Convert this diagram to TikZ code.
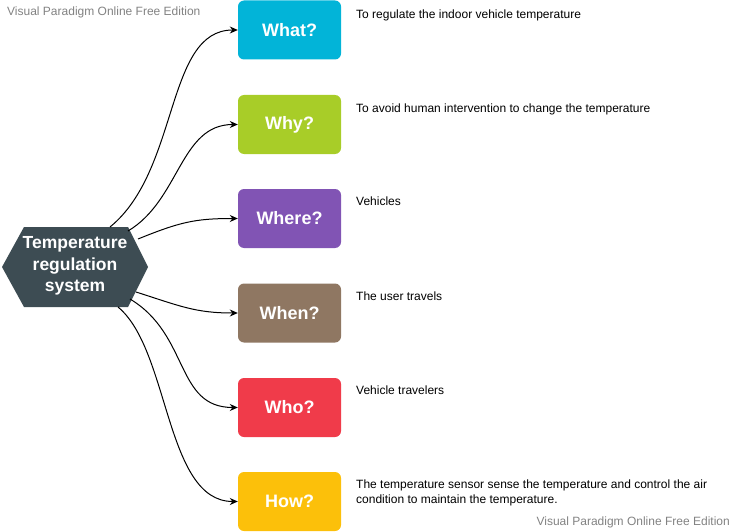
\documentclass[tikz,border=0pt]{standalone}
\usepackage{fontspec}
\setmainfont{Liberation Sans}
\usetikzlibrary{arrows.meta}
\definecolor{hubfill}{RGB}{61,76,83}
\definecolor{cWhat}{RGB}{2,180,216}
\definecolor{cWhy}{RGB}{168,205,40}
\definecolor{cWhere}{RGB}{129,84,180}
\definecolor{cWhen}{RGB}{143,119,98}
\definecolor{cWho}{RGB}{240,59,74}
\definecolor{cHow}{RGB}{252,192,10}
\definecolor{wmark}{RGB}{130,130,130}
\tikzset{
  qbox/.style={rounded corners=6pt, minimum width=103pt, minimum height=59pt,
    inner sep=0pt, text=white, font=\fontsize{18}{21}\selectfont\bfseries},
  desc/.style={anchor=north west, inner sep=0pt, align=left,
    font=\fontsize{12}{14}\selectfont},
  wm/.style={inner sep=0pt, text=wmark, font=\fontsize{12}{14}\selectfont},
  link/.style={draw=black, line width=1pt, -{Stealth[length=8pt,width=7pt]}},
}
\begin{document}
\begin{tikzpicture}[x=1pt,y=-1pt]
\useasboundingbox (0,0) rectangle (736,532);

% central hexagon
\fill[hubfill] (2,267) -- (24,227) -- (128,227) -- (148,267) -- (128,307) -- (24,307) -- cycle;
\node[align=center, text=white, font=\fontsize{17.5}{21.5}\selectfont\bfseries, inner sep=0pt]
  (hub) at (75,266) {Temperature\\regulation\\system};

% question boxes
\node[qbox, fill=cWhat]  (what)  at (289.5,30)  {What?};
\node[qbox, fill=cWhy]   (why)   at (289.5,124.5) {Why?};
\node[qbox, fill=cWhere] (where) at (289.5,218.5) {Where?};
\node[qbox, fill=cWhen]  (when)  at (289.5,313) {When?};
\node[qbox, fill=cWho]   (who)   at (289.5,407.5) {Who?};
\node[qbox, fill=cHow]   (how)   at (289.5,501.5) {How?};

% answers
\node[desc] (dwhat)  at (356,10)  {To regulate the indoor vehicle temperature};
\node[desc] (dwhy)   at (356,104) {To avoid human intervention to change the temperature};
\node[desc] (dwhere) at (356,197) {Vehicles};
\node[desc] (dwhen)  at (356,292) {The user travels};
\node[desc] (dwho)   at (356,386) {Vehicle travelers};
\node[desc, font=\fontsize{12}{14.5}\selectfont] (dhow) at (356,480)
  {The temperature sensor sense the temperature and control the air\\condition to maintain the temperature.};

% watermarks
\node[wm, anchor=west] (wmtop) at (7,12) {Visual Paradigm Online Free Edition};
\node[wm, anchor=east] (wmbot) at (730,522) {Visual Paradigm Online Free Edition};

% connector start points on the hexagon rim
\coordinate (s1) at (110,227);
\coordinate (s2) at (128,231);
\coordinate (s3) at (138,239);
\coordinate (s4) at (136,292);
\coordinate (s5) at (130,299);
\coordinate (s6) at (118,307);

\draw[link] (s1) .. controls (180,170) and (165,30) .. (what.west);
\draw[link] (s2) .. controls (180,200) and (180,124.5) .. (why.west);
\draw[link] (s3) .. controls (180,222) and (195,218.5) .. (where.west);
\draw[link] (s4) .. controls (180,306) and (195,313) .. (when.west);
\draw[link] (s5) .. controls (190,335) and (175,407.5) .. (who.west);
\draw[link] (s6) .. controls (170,350) and (165,501.5) .. (how.west);
\end{tikzpicture}
\end{document}
